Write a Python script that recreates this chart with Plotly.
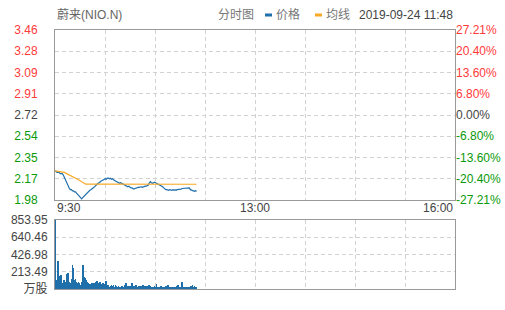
import plotly.graph_objects as go

# ---------------- data ----------------
prev_close = 2.72
price = [
    2.23, 2.23, 2.22, 2.22, 2.22, 2.21, 2.21, 2.21, 2.20, 2.18,
    2.16, 2.13, 2.11, 2.09, 2.08, 2.07, 2.07, 2.06, 2.06, 2.05,
    2.05, 2.04, 2.03, 2.02, 2.01, 2.00, 1.99, 2.00, 2.01, 2.02,
    2.03, 2.04, 2.05, 2.06, 2.065, 2.07, 2.08, 2.085, 2.09, 2.10,
    2.11, 2.12, 2.125, 2.13, 2.14, 2.145, 2.15, 2.155, 2.16, 2.165,
    2.16, 2.17, 2.17, 2.165, 2.17, 2.16, 2.165, 2.155, 2.15, 2.145,
    2.14, 2.135, 2.13, 2.125, 2.13, 2.125, 2.12, 2.115, 2.11, 2.105,
    2.10, 2.095, 2.10, 2.09, 2.085, 2.085, 2.08, 2.075, 2.08, 2.085,
    2.085, 2.09, 2.09, 2.095, 2.095, 2.09, 2.095, 2.095, 2.10, 2.10,
    2.105, 2.11, 2.13, 2.14, 2.13, 2.125, 2.13, 2.135, 2.13, 2.125,
    2.125, 2.12, 2.11, 2.105, 2.10, 2.095, 2.085, 2.075, 2.07, 2.07,
    2.065, 2.065, 2.07, 2.065, 2.065, 2.07, 2.065, 2.07, 2.065, 2.07,
    2.07, 2.075, 2.075, 2.075, 2.08, 2.08, 2.08, 2.08, 2.085, 2.08,
    2.08, 2.085, 2.07, 2.065, 2.06, 2.06, 2.055, 2.06, 2.055,
]
avg_price = [
    2.233, 2.232, 2.231, 2.230, 2.229, 2.228, 2.226, 2.225, 2.223, 2.221,
    2.216, 2.212, 2.207, 2.203, 2.199, 2.194, 2.189, 2.184, 2.179, 2.174,
    2.169, 2.165, 2.160, 2.154, 2.148, 2.143, 2.138, 2.133, 2.126, 2.120,
    2.118, 2.118, 2.118, 2.118, 2.118, 2.118, 2.118, 2.118, 2.118, 2.118,
    2.118, 2.118, 2.118, 2.118, 2.118, 2.118, 2.118, 2.118, 2.118, 2.118,
    2.118, 2.118, 2.118, 2.118, 2.118, 2.118, 2.118, 2.118, 2.118, 2.118,
    2.118, 2.118, 2.118, 2.118, 2.118, 2.118, 2.118, 2.118, 2.118, 2.118,
    2.118, 2.118, 2.118, 2.118, 2.118, 2.118, 2.118, 2.118, 2.118, 2.118,
    2.117, 2.117, 2.117, 2.117, 2.117, 2.117, 2.117, 2.117, 2.117, 2.117,
    2.117, 2.117, 2.117, 2.117, 2.117, 2.117, 2.117, 2.117, 2.117, 2.117,
    2.117, 2.117, 2.117, 2.117, 2.117, 2.117, 2.117, 2.117, 2.117, 2.117,
    2.117, 2.117, 2.117, 2.117, 2.117, 2.117, 2.117, 2.117, 2.117, 2.117,
    2.117, 2.117, 2.117, 2.117, 2.117, 2.117, 2.117, 2.117, 2.117, 2.117,
    2.117, 2.117, 2.117, 2.117, 2.117, 2.117, 2.117, 2.117, 2.117,
]
volume = [
    853.95, 45, 110, 350, 160, 145, 175, 70, 60, 110,
    75, 90, 180, 195, 85, 70, 130, 300, 255, 110,
    125, 90, 70, 85, 70, 55, 90, 300, 150, 140,
    115, 90, 70, 60, 50, 65, 80, 60, 75, 55,
    85, 95, 60, 70, 85, 55, 65, 80, 45, 60,
    105, 35, 45, 30, 40, 50, 35, 45, 30, 55,
    40, 25, 35, 30, 20, 40, 30, 25, 45, 80,
    30, 35, 25, 40, 30, 78, 25, 35, 30, 50,
    25, 30, 40, 20, 35, 30, 55, 25, 35, 30,
    40, 25, 50, 35, 30, 20, 25, 35, 30, 58,
    25, 20, 30, 35, 25, 20, 30, 25, 35, 20,
    55, 30, 25, 20, 30, 25, 20, 30, 25, 35,
    50, 25, 20, 30, 90, 25, 20, 15, 25, 20,
    15, 20, 40, 35, 45, 30, 40, 20, 15,
]
minutes = list(range(len(price)))
session_minutes = 390

price_ticks = ["1.98", "2.17", "2.35", "2.54", "2.72", "2.91", "3.09", "3.28", "3.46"]
pct_ticks = ["-27.21%", "-20.40%", "-13.60%", "-6.80%", "0.00%", "6.80%", "13.60%", "20.40%", "27.21%"]
vol_ticks = ["万股", "213.49", "426.98", "640.46", "853.95"]
time_labels = ["9:30", "13:00", "16:00"]

# ---------------- style ----------------
BLUE = "#1f6fab"
ORANGE = "#f9a825"
RED = "#ff3a3a"
GREEN = "#0a9a0a"
NEUTRAL = "#444444"
GRID = "#d2d2d2"
BORDER = "#999999"
FONT = "Liberation Sans, Arial, Noto Sans CJK SC, sans-serif"

p_lo, p_hi = 1.98, 3.46
pct_hi = 27.21
vol_hi = 853.95

def colored(labels):
    n = len(labels)
    mid = n // 2
    out = []
    for i, t in enumerate(labels):
        c = GREEN if i < mid else (NEUTRAL if i == mid else RED)
        out.append(f"<span style='color:{c}'>{t}</span>")
    return out

n_t = len(price_ticks)
price_vals = [p_lo + (p_hi - p_lo) * i / (n_t - 1) for i in range(n_t)]
pct_vals = [-pct_hi + 2 * pct_hi * i / (n_t - 1) for i in range(n_t)]
vol_vals = [vol_hi * i / (len(vol_ticks) - 1) for i in range(len(vol_ticks))]
x_grid = [session_minutes * i / 8 for i in range(9)]

fig = go.Figure()
fig.add_trace(go.Scatter(x=minutes, y=price, mode="lines", line=dict(color=BLUE, width=1.2),
                         xaxis="x", yaxis="y", showlegend=False, hoverinfo="skip"))
fig.add_trace(go.Scatter(x=minutes, y=avg_price, mode="lines", line=dict(color=ORANGE, width=1.2),
                         xaxis="x", yaxis="y", showlegend=False, hoverinfo="skip"))
fig.add_trace(go.Scatter(x=[0, 0], y=[-pct_hi, pct_hi], mode="lines", line=dict(width=0),
                         xaxis="x", yaxis="y3", showlegend=False, hoverinfo="skip"))
fig.add_trace(go.Bar(x=minutes, y=volume, marker=dict(color=BLUE, line=dict(width=0)),
                     width=0.75, xaxis="x2", yaxis="y2", showlegend=False, hoverinfo="skip"))

H_PLOT = 259.0
main_bottom = (289 - 200) / H_PLOT
vol_top = (289 - 220) / H_PLOT

axis_common = dict(showline=True, linecolor=BORDER, linewidth=1, mirror=True,
                   gridcolor=GRID, griddash="4px,3px", gridwidth=1, zeroline=False,
                   fixedrange=True, automargin=False)

fig.update_layout(
    width=505, height=310,
    margin=dict(l=55, r=50, t=30, b=21),
    paper_bgcolor="white", plot_bgcolor="white",
    font=dict(family=FONT, size=12, color=NEUTRAL),
    bargap=0,
    xaxis=dict(domain=[0, 1], anchor="y", range=[0, session_minutes], tickmode="array",
               tickvals=x_grid, showticklabels=False, ticks="", **axis_common),
    yaxis=dict(domain=[main_bottom, 1], anchor="x", range=[p_lo, p_hi], tickmode="array",
               tickvals=price_vals, ticktext=colored(price_ticks), ticks="",
               ticklabelstandoff=14, **axis_common),
    yaxis3=dict(overlaying="y", side="right", anchor="x", range=[-pct_hi, pct_hi],
                tickmode="array", tickvals=pct_vals, ticktext=colored(pct_ticks),
                showgrid=False, showline=False, zeroline=False, ticks="", fixedrange=True,
                automargin=False),
    xaxis2=dict(domain=[0, 1], anchor="y2", range=[0, session_minutes], tickmode="array",
                tickvals=x_grid, showticklabels=False, ticks="", **axis_common),
    yaxis2=dict(domain=[0, vol_top], anchor="x2", range=[0, vol_hi], tickmode="array",
                tickvals=vol_vals, ticktext=vol_ticks, ticks="", ticklabelstandoff=4,
                tickfont=dict(color="#444444"), **axis_common),
)

def px_x(p):
    return (p - 55) / 400.0

def px_y(p):
    return (289 - p) / H_PLOT

ann = []
head_y = px_y(15)
ann.append(dict(text="蔚来(NIO.N)", x=0, y=head_y, xref="paper", yref="paper",
                xanchor="left", yanchor="middle", showarrow=False,
                font=dict(size=12, color="#666666")))
ann.append(dict(text="分时图", x=px_x(256), y=head_y, xref="paper", yref="paper",
                xanchor="right", yanchor="middle", showarrow=False,
                font=dict(size=12, color="#777777")))
ann.append(dict(text="价格", x=px_x(274), y=head_y, xref="paper", yref="paper",
                xanchor="left", yanchor="middle", showarrow=False,
                font=dict(size=12, color="#777777")))
ann.append(dict(text="均线", x=px_x(324), y=head_y, xref="paper", yref="paper",
                xanchor="left", yanchor="middle", showarrow=False,
                font=dict(size=12, color="#777777")))
ann.append(dict(text="2019-09-24 11:48", x=px_x(455), y=head_y, xref="paper", yref="paper",
                xanchor="right", yanchor="middle", showarrow=False,
                font=dict(size=12, color="#444444")))
t_y = px_y(208)
for lbl, xv, anc in zip(time_labels, [0, session_minutes / 2, session_minutes],
                        ["left", "center", "right"]):
    ann.append(dict(text=lbl, x=xv, y=t_y, xref="x", yref="paper", xanchor=anc,
                    yanchor="middle", showarrow=False, font=dict(size=12, color="#444444")))
fig.update_layout(annotations=ann)

shapes = [
    dict(type="line", xref="paper", yref="paper", x0=px_x(265), x1=px_x(272),
         y0=head_y, y1=head_y, line=dict(color=BLUE, width=3)),
    dict(type="line", xref="paper", yref="paper", x0=px_x(315), x1=px_x(322),
         y0=head_y, y1=head_y, line=dict(color=ORANGE, width=3)),
]
fig.update_layout(shapes=shapes)

fig.write_html("out.html")
